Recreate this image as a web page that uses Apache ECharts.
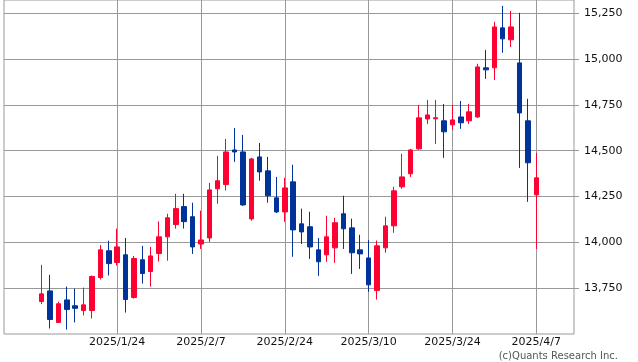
<!DOCTYPE html>
<html>
<head>
<meta charset="utf-8">
<script src="https://cdn.jsdelivr.net/npm/echarts@6/dist/echarts.min.js"></script>
<style>
html,body{margin:0;padding:0;background:#fff;}
#chart{width:638px;height:362px;}
</style>
</head>
<body>
<div id="chart"></div>
<script>
const dates = [
 '2025/1/13','2025/1/14','2025/1/15','2025/1/16','2025/1/17','2025/1/20','2025/1/21','2025/1/22','2025/1/23','2025/1/24',
 '2025/1/27','2025/1/28','2025/1/29','2025/1/30','2025/1/31','2025/2/3','2025/2/4','2025/2/5','2025/2/6','2025/2/7',
 '2025/2/10','2025/2/12','2025/2/13','2025/2/14','2025/2/17','2025/2/18','2025/2/19','2025/2/20','2025/2/21','2025/2/24',
 '2025/2/25','2025/2/26','2025/2/27','2025/2/28','2025/3/3','2025/3/4','2025/3/5','2025/3/6','2025/3/7','2025/3/10',
 '2025/3/11','2025/3/12','2025/3/13','2025/3/14','2025/3/17','2025/3/18','2025/3/19','2025/3/20','2025/3/21','2025/3/24',
 '2025/3/25','2025/3/26','2025/3/27','2025/3/28','2025/3/31','2025/4/1','2025/4/2','2025/4/3','2025/4/4','2025/4/7'
];
const openV = [
 13677,13735,13563,13686,13654,13628,13628,13808,13954,13890,
 13932,13699,13905,13841,13939,14030,14097,14195,14140,13991,
 14024,14292,14315,14504,14493,14128,14466,14390,14243,14166,
 14330,14101,14085,13959,13932,13970,14156,14079,13959,13915,
 13737,13970,14090,14303,14374,14510,14673,14674,14663,14641,
 14684,14663,14684,14952,14952,15170,15105,14979,14663,14259
];
const closeV = [
 13719,13579,13665,13634,13640,13659,13814,13959,13884,13975,
 13688,13912,13830,13926,14030,14134,14184,14113,13975,14013,
 14286,14336,14493,14493,14204,14455,14384,14254,14166,14297,
 14068,14057,13975,13894,14030,14107,14074,13943,13937,13768,
 13981,14090,14281,14357,14504,14679,14695,14680,14603,14668,
 14652,14712,14957,14941,15175,15110,15175,14706,14434,14352
];
const highV = [
 13877,13823,13676,13759,13748,13753,13819,13985,14009,14075,
 14024,13926,13981,13975,14114,14156,14265,14265,14216,14173,
 14324,14472,14564,14624,14586,14461,14542,14466,14357,14352,
 14423,14184,14167,14024,14145,14134,14254,14129,14041,14013,
 14010,14140,14303,14483,14510,14750,14777,14777,14755,14750,
 14771,14755,14974,15050,15203,15290,15263,15252,14783,14488
];
const lowV = [
 13663,13530,13560,13524,13563,13601,13584,13797,13819,13873,
 13617,13693,13775,13759,13895,13900,14075,14075,13937,13964,
 14002,14211,14283,14439,14199,14118,14336,14216,14160,14112,
 13921,13991,13910,13817,13894,13888,13964,13828,13855,13730,
 13688,13943,14052,14292,14357,14505,14646,14537,14461,14614,
 14619,14646,14679,14892,14886,15034,15066,14406,14221,13964
];
const xLabels = ['2025/1/24','2025/2/7','2025/2/24','2025/3/10','2025/3/24','2025/4/7'];
const yTicks = [13750,14000,14250,14500,14750,15000,15250];
const copyright = '(c)Quants Research Inc.';

const PAD = 4;
const cats = [];
for (let i = 0; i < PAD; i++) cats.push('_s' + i);
dates.forEach(d => cats.push(d));
for (let i = 0; i < PAD; i++) cats.push('_e' + i);
const ohlc = [];
for (let i = 0; i < PAD; i++) ohlc.push('-');
dates.forEach((d, i) => ohlc.push([openV[i], closeV[i], lowV[i], highV[i]]));
for (let i = 0; i < PAD; i++) ohlc.push('-');

const isLabelled = (idx) => xLabels.indexOf(cats[idx]) >= 0;

const chart = echarts.init(document.getElementById('chart'), null, {renderer: 'canvas'});
chart.setOption({
  animation: false,
  backgroundColor: '#fff',
  textStyle: {fontFamily: 'DejaVu Sans'},
  grid: {left: 4, right: 64, top: 0, bottom: 28, show: true, borderColor: '#999', borderWidth: 1, backgroundColor: 'transparent'},
  xAxis: {
    type: 'category',
    data: cats,
    boundaryGap: true,
    axisLine: {show: false},
    axisTick: {show: false, alignWithLabel: true, interval: (i) => isLabelled(i)},
    splitLine: {show: true, alignWithLabel: true, interval: (i) => isLabelled(i), lineStyle: {color: '#999', width: 1}},
    axisLabel: {
      interval: (i) => isLabelled(i),
      margin: 3,
      fontSize: 11,
      fontFamily: 'DejaVu Sans',
      color: '#111'
    }
  },
  yAxis: {
    type: 'value',
    position: 'right',
    min: 13500,
    max: 15322,
    scale: true,
    axisLine: {show: false},
    axisTick: {show: true, length: 5, lineStyle: {color: '#999'}, customValues: yTicks},
    splitLine: {show: true, lineStyle: {color: '#999', width: 1}},
    axisLabel: {
      customValues: yTicks,
      margin: 10,
      fontSize: 11,
      fontFamily: 'DejaVu Sans',
      color: '#111',
      formatter: (v) => v.toLocaleString('en-US')
    }
  },
  series: [{
    type: 'candlestick',
    data: ohlc,
    barWidth: 5,
    itemStyle: {
      color: '#ff0033',
      color0: '#003399',
      borderColor: '#ff0033',
      borderColor0: '#003399',
      borderWidth: 1
    }
  }],
  graphic: [{
    type: 'text',
    right: 20,
    top: 351,
    style: {text: copyright, font: '10px "DejaVu Sans"', fill: '#555'}
  }]
});
</script>
</body>
</html>
